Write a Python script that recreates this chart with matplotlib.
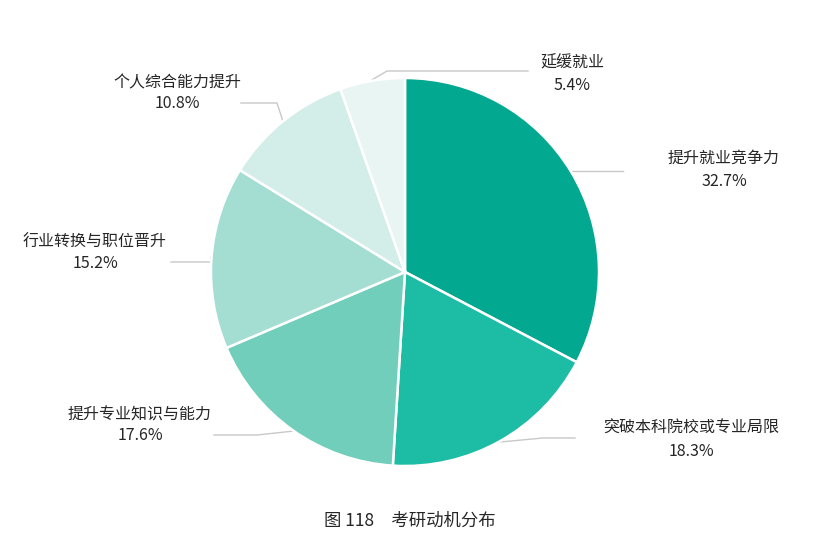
import numpy as np
import matplotlib
matplotlib.use("Agg")
import matplotlib.pyplot as plt

plt.rcParams['font.family'] = ['Noto Sans CJK SC', 'DejaVu Sans']

# data
names = ['提升就业竞争力', '突破本科院校或专业局限', '提升专业知识与能力',
         '行业转换与职位晋升', '个人综合能力提升', '延缓就业']
shares = [32.7, 18.3, 17.6, 15.2, 10.8, 5.4]
colors = ['#02A88F', '#1CBCA5', '#70CEBB', '#A4DDD2', '#D3EEE8', '#E8F5F2']
title = '图 118\u3000考研动机分布'

# layout (pixel coords, y measured from top of the image)
W, H = 816, 557
cx, cy, R = 405, 272, 194
line_y = [171, 438, 435, 262, 103, 71]
elbow_x = [None, 543, 257, 212, 277, 387]
end_x = [623, 575, 214, 171, 241, 528]
text_x = [724, 691, 140, 95, 177, 572]
name_y = [158, 428, 415, 242, 83, 63]
pct_y = [181, 451, 436, 263, 103, 86]

fig = plt.figure(figsize=(W / 100, H / 100), dpi=100)
ax = fig.add_axes([0, 0, 1, 1])

wedges, _ = ax.pie(shares, colors=colors, startangle=90, counterclock=False,
                   center=(cx, H - cy), radius=R,
                   wedgeprops=dict(edgecolor='white', linewidth=1.8))

# leader lines + labels
start = 90.0
for i, v in enumerate(shares):
    mid = np.deg2rad(start - v * 3.6 / 2)
    start -= v * 3.6
    sx = cx + (R + 1) * np.cos(mid)
    sy = cy - (R + 1) * np.sin(mid)
    ex = elbow_x[i] if elbow_x[i] is not None else sx
    xs = [sx, ex, end_x[i]]
    ys = [sy, line_y[i], line_y[i]]
    ax.plot(xs, [H - y for y in ys], color='#C8C8C8', lw=1.0, zorder=0)
    ax.text(text_x[i], H - name_y[i], names[i], ha='center', va='center',
            fontsize=11.5, color='#262626')
    ax.text(text_x[i], H - pct_y[i], f'{v}%', ha='center', va='center',
            fontsize=11.5, color='#262626')

ax.text(410, H - 521, title, ha='center', va='center', fontsize=12.5, color='#262626')

ax.set_xlim(0, W)
ax.set_ylim(0, H)
ax.set_aspect('equal')
ax.axis('off')

fig.savefig('out.png', dpi=100, facecolor='white')
